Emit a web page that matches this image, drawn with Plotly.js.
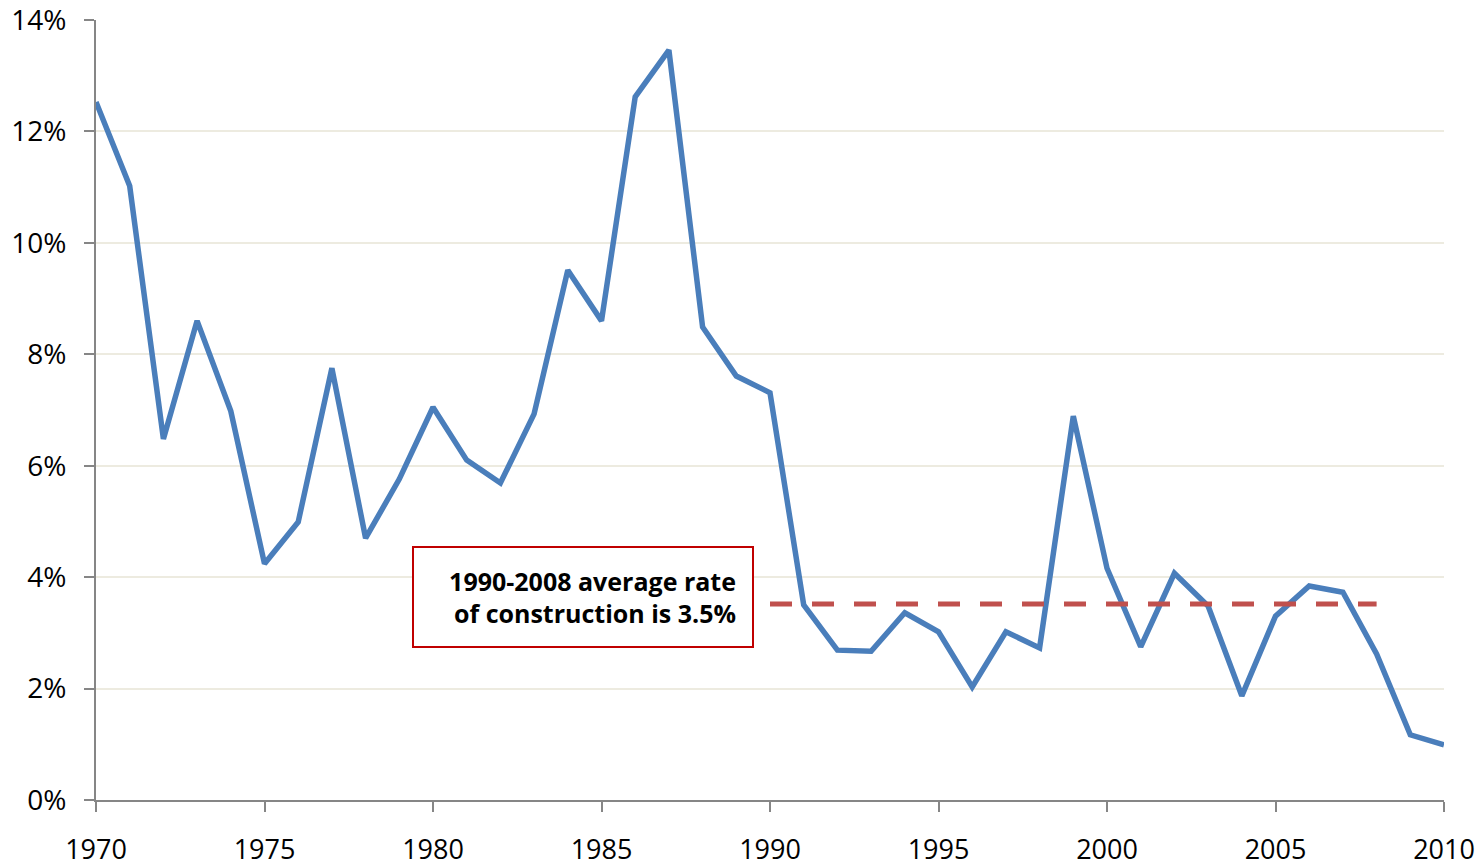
<!DOCTYPE html>
<html>
<head>
<meta charset="utf-8">
<script src="https://cdn.plot.ly/plotly-3.0.1.min.js"></script>
<style>html,body{margin:0;padding:0;background:#fff;}#chart{width:1482px;height:868px;}</style>
</head>
<body>
<div id="chart"></div>
<script>
const years = [1970,1971,1972,1973,1974,1975,1976,1977,1978,1979,1980,1981,1982,1983,1984,1985,1986,1987,1988,1989,1990,1991,1992,1993,1994,1995,1996,1997,1998,1999,2000,2001,2002,2003,2004,2005,2006,2007,2008,2009,2010];
const rates = [12.53,11.02,6.48,8.60,6.98,4.24,4.99,7.75,4.70,5.76,7.05,6.10,5.69,6.93,9.51,8.60,12.62,13.46,8.49,7.61,7.31,3.50,2.69,2.67,3.36,3.02,2.03,3.02,2.73,6.89,4.16,2.75,4.07,3.48,1.87,3.30,3.84,3.73,2.62,1.17,0.99];
const avgYears = [1990, 2008];
const avgRate = [3.52, 3.52];
const xTicks = [1970,1975,1980,1985,1990,1995,2000,2005,2010];
const yTicks = [0,2,4,6,8,10,12,14];
const yTickText = yTicks.map(v => v + '%');
const noteText = '1990-2008 average rate<br>of construction is 3.5%';

const font = 'Open Sans, Noto Sans, sans-serif';
const traces = [
  {x: years, y: rates, type: 'scatter', mode: 'lines',
   line: {color: '#4A7EBB', width: 5.5}, hoverinfo: 'skip'},
  {x: avgYears, y: avgRate, type: 'scatter', mode: 'lines',
   line: {color: '#C0504D', width: 5, dash: '22px,20px'}, hoverinfo: 'skip'}
];
const layout = {
  width: 1482, height: 868,
  margin: {l: 96, r: 38, t: 20, b: 68},
  paper_bgcolor: '#fff', plot_bgcolor: '#fff',
  showlegend: false,
  font: {family: font, size: 27, color: '#000'},
  xaxis: {range: [1970, 2010], tickvals: xTicks, ticktext: xTicks.map(String),
    showgrid: false, zeroline: false, showline: true, linecolor: '#868686', linewidth: 2,
    ticks: 'outside', ticklen: 10, tickwidth: 2, tickcolor: '#868686', ticklabelstandoff: 15,
    ticklabeloverflow: 'allow',
    tickfont: {family: font, size: 27, color: '#000'}},
  yaxis: {range: [0, 14], tickvals: yTicks, ticktext: yTickText,
    showgrid: true, gridcolor: '#EDEBE0', gridwidth: 2, zeroline: false,
    showline: true, linecolor: '#868686', linewidth: 2,
    ticks: 'outside', ticklen: 10, tickwidth: 2, tickcolor: '#868686', ticklabelstandoff: 12,
    ticklabeloverflow: 'allow',
    tickfont: {family: font, size: 28, color: '#000'}},
  annotations: [{
    x: 1984.45, y: 3.64, xref: 'x', yref: 'y', showarrow: false,
    text: noteText, align: 'right', width: 306, height: 66,
    bgcolor: '#fff', bordercolor: '#C00000', borderwidth: 2, borderpad: 16,
    font: {family: font, size: 25, color: '#000', weight: 'bold'}
  }]
};
Plotly.newPlot('chart', traces, layout, {staticPlot: true, displayModeBar: false});
</script>
</body>
</html>
